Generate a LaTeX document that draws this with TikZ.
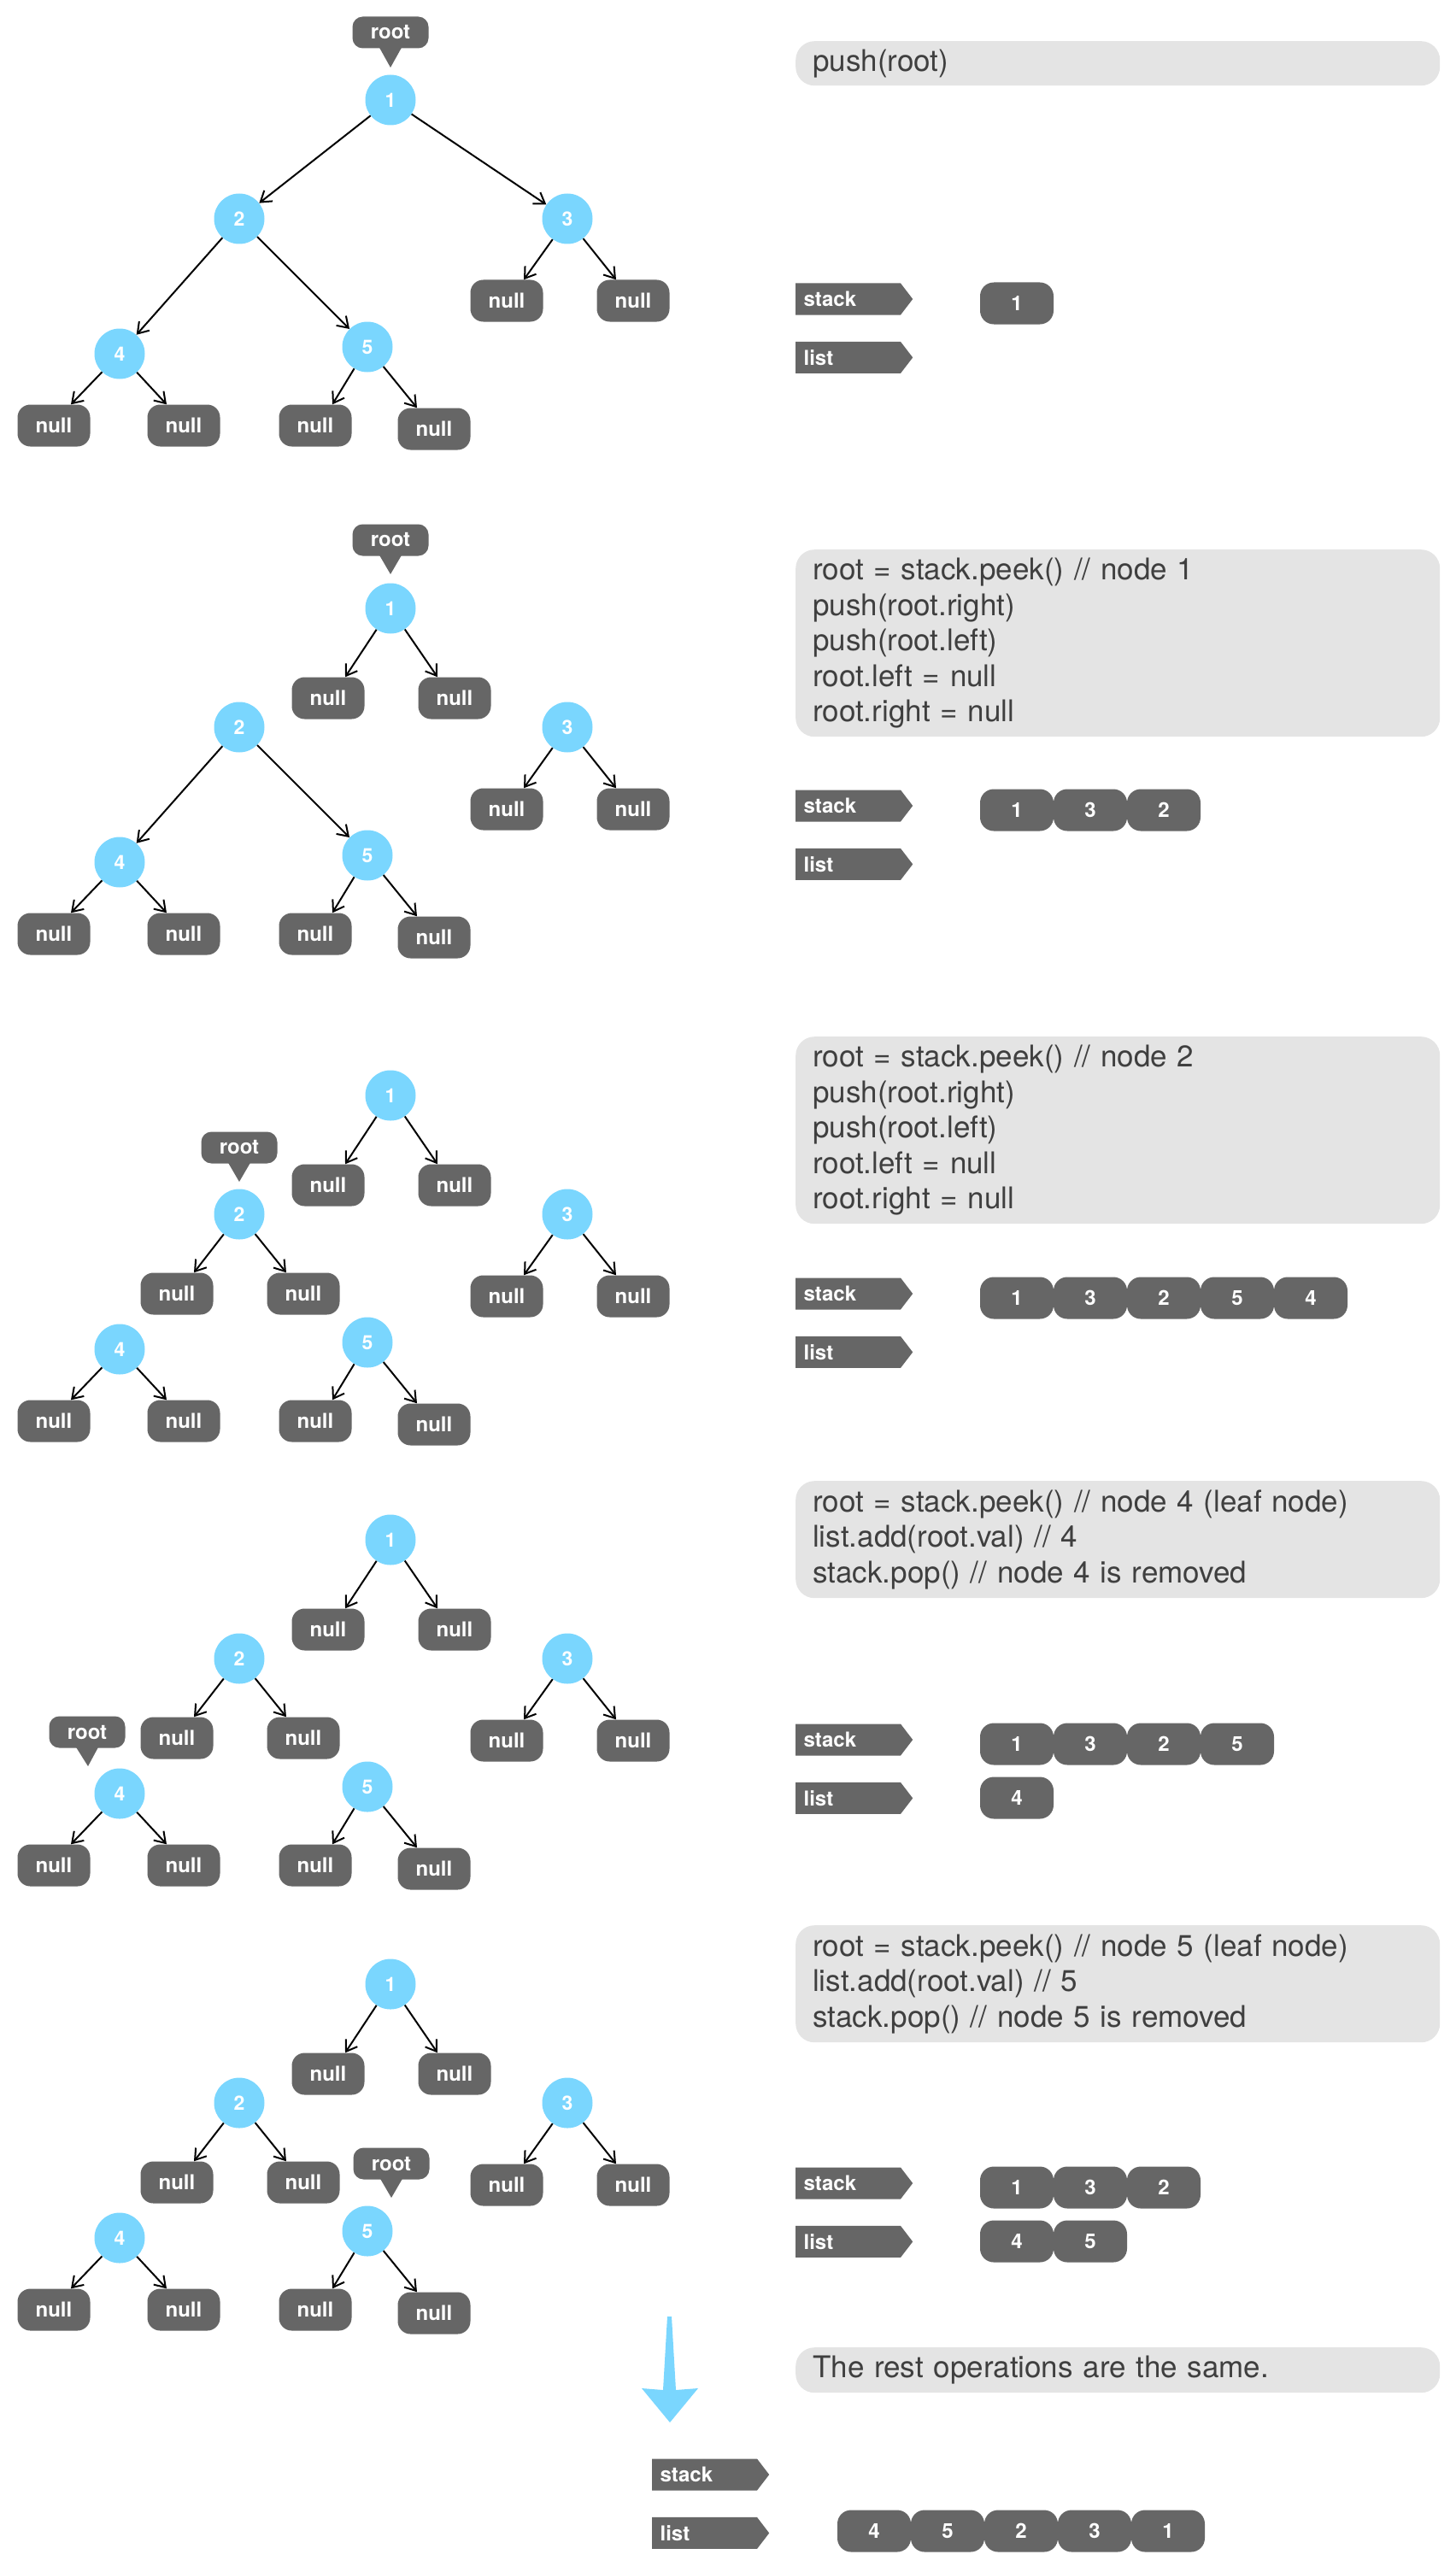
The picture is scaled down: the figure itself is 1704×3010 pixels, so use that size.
\documentclass[tikz,border=0pt]{standalone}
\usepackage{fontspec}
\setmainfont{TeX Gyre Heros}
\usetikzlibrary{arrows.meta,positioning,shapes.symbols}
\definecolor{treeblue}{HTML}{7AD6FE}
\definecolor{darkbox}{HTML}{666666}
\definecolor{codebg}{HTML}{E4E4E4}
\definecolor{codetext}{HTML}{3F3F3F}
\tikzset{
  tnode/.style={circle, fill=treeblue, minimum size=59pt, inner sep=0pt,
                text=white, font=\bfseries\fontsize{23}{23}\selectfont},
  nullbox/.style={fill=darkbox, rounded corners=15pt, minimum width=85pt,
                  minimum height=49pt, inner sep=0pt, text=white,
                  font=\bfseries\fontsize{24}{24}\selectfont},
  cellbox/.style={nullbox, minimum width=86pt, rounded corners=16pt,
                  font=\bfseries\fontsize{24}{24}\selectfont},
  rootmark/.style={fill=darkbox, rounded corners=12pt, minimum width=89pt,
                   minimum height=37pt, inner sep=0pt, text=white,
                   font=\bfseries\fontsize{24}{24}\selectfont},
  tagbox/.style={signal, signal to=east, signal pointer angle=105, fill=darkbox,
                 minimum width=137pt, minimum height=37pt, inner xsep=8pt,
                 inner ysep=0pt, text width=104pt, align=left, text=white,
                 font=\bfseries\fontsize{24}{24}\selectfont},
  codebox/.style={fill=codebg, rounded corners=22pt, anchor=north west,
                  minimum width=754pt, text width=714pt, inner xsep=20pt,
                  align=left, text=codetext, font=\fontsize{35}{41.6}\selectfont},
  arrow/.style={-{Straight Barb[length=12pt,width=16pt]}, line width=2pt}
}
\begin{document}
\begin{tikzpicture}[x=1pt, y=-1pt]
  \useasboundingbox (0,0) rectangle (1704,3010);
  % the five trees
  \foreach \p/\y in {1/117, 2/712, 3/1282, 4/1802, 5/2322} {
    \begin{scope}[shift={(0,\y)}]
      \node[tnode] (t\p-n1) at (457,0) {1};
      \node[tnode] (t\p-n2) at (280,139) {2};
      \node[tnode] (t\p-n3) at (664,139) {3};
      \node[tnode] (t\p-n4) at (140,297) {4};
      \node[tnode] (t\p-n5) at (430,289) {5};
      \node[nullbox] (t\p-n3l) at (593,235) {null};
      \node[nullbox] (t\p-n3r) at (741,235) {null};
      \node[nullbox] (t\p-n4l) at (63,381) {null};
      \node[nullbox] (t\p-n4r) at (215,381) {null};
      \node[nullbox] (t\p-n5l) at (369,381) {null};
      \node[nullbox] (t\p-n5r) at (508,385) {null};
    \end{scope}
    \foreach \u/\v in {n3/n3l.51, n3/n3r.129, n4/n4l.51, n4/n4r.129,
                       n5/n5l.51, n5/n5r.129}
      \draw[arrow] (t\p-\u) -- (t\p-\v);
  }
  % null children of 1 and 2
  \foreach \p/\y in {2/712, 3/1282, 4/1802, 5/2322} {
    \node[nullbox] (t\p-n1l) at (384,\y+105) {null};
    \node[nullbox] (t\p-n1r) at (532,\y+105) {null};
    \draw[arrow] (t\p-n1) -- (t\p-n1l.51);
    \draw[arrow] (t\p-n1) -- (t\p-n1r.129);
  }
  \foreach \p/\y in {3/1282, 4/1802, 5/2322} {
    \node[nullbox] (t\p-n2l) at (207,\y+232) {null};
    \node[nullbox] (t\p-n2r) at (355,\y+232) {null};
    \draw[arrow] (t\p-n2) -- (t\p-n2l.51);
    \draw[arrow] (t\p-n2) -- (t\p-n2r.129);
  }
  \foreach \u/\v in {t1-n1/t1-n2, t1-n1/t1-n3, t1-n2/t1-n4, t1-n2/t1-n5,
                     t2-n2/t2-n4, t2-n2/t2-n5}
    \draw[arrow] (\u) -- (\v);
  % root markers
  \foreach \i/\x/\y/\tx/\ty in {1/457/38/457/79, 2/457/632/457/672,
                                3/280/1343/280/1383, 4/102/2027/103/2067,
                                5/458/2532/458/2572} {
    \node[rootmark] (r\i) at (\x,\y) {root};
    \coordinate (r\i tip) at (\tx,\ty);
    \fill[darkbox] ([xshift=-13pt,yshift=1pt]r\i.south)
      -- ([xshift=13pt,yshift=1pt]r\i.south) -- (r\i tip) -- cycle;
  }
  % code boxes
  \node[codebox, minimum height=52pt] (c1) at (931,48) {push(root)};
  \node[codebox, minimum height=219pt] (c2) at (931,643)
    {root = stack.peek() // node 1\\push(root.right)\\push(root.left)\\
     root.left = null\\root.right = null};
  \node[codebox, minimum height=219pt] (c3) at (931,1213)
    {root = stack.peek() // node 2\\push(root.right)\\push(root.left)\\
     root.left = null\\root.right = null};
  \node[codebox, minimum height=137pt] (c4) at (931,1733)
    {root = stack.peek() // node 4 (leaf node)\\list.add(root.val) // 4\\
     stack.pop() // node 4 is removed};
  \node[codebox, minimum height=137pt] (c5) at (931,2253)
    {root = stack.peek() // node 5 (leaf node)\\list.add(root.val) // 5\\
     stack.pop() // node 5 is removed};
  \node[codebox, minimum height=53pt] (c6) at (931,2747)
    {The rest operations are the same.};
  % stack and list
  \foreach \p/\x/\y in {1/931/350, 2/931/943, 3/931/1514, 4/931/2036,
                        5/931/2555, 6/763/2896} {
    \node[tagbox, anchor=west] (s\p) at (\x,\y) {stack};
    \node[tagbox, below=31pt of s\p] (l\p) {list};
  }
  \foreach \v [count=\i] in {1}
    \node[cellbox] (s1-\i) at ({1104+86*\i},355) {\v};
  \foreach \v [count=\i] in {1,3,2}
    \node[cellbox] (s2-\i) at ({1104+86*\i},948) {\v};
  \foreach \v [count=\i] in {1,3,2,5,4}
    \node[cellbox] (s3-\i) at ({1104+86*\i},1519) {\v};
  \foreach \v [count=\i] in {1,3,2,5}
    \node[cellbox] (s4-\i) at ({1104+86*\i},2041) {\v};
  \foreach \v [count=\i] in {4}
    \node[cellbox] (l4-\i) at ({1104+86*\i},2104) {\v};
  \foreach \v [count=\i] in {1,3,2}
    \node[cellbox] (s5-\i) at ({1104+86*\i},2560) {\v};
  \foreach \v [count=\i] in {4,5}
    \node[cellbox] (l5-\i) at ({1104+86*\i},2623) {\v};
  \foreach \v [count=\i] in {4,5,2,3,1}
    \node[cellbox] (l6-\i) at ({937+86*\i},2962) {\v};
  % big arrow
  \fill[treeblue] (781,2711) -- (786,2711) -- (791,2797) -- (817,2795)
    -- (784,2835) -- (751,2795) -- (776,2797) -- cycle;
\end{tikzpicture}
\end{document}
